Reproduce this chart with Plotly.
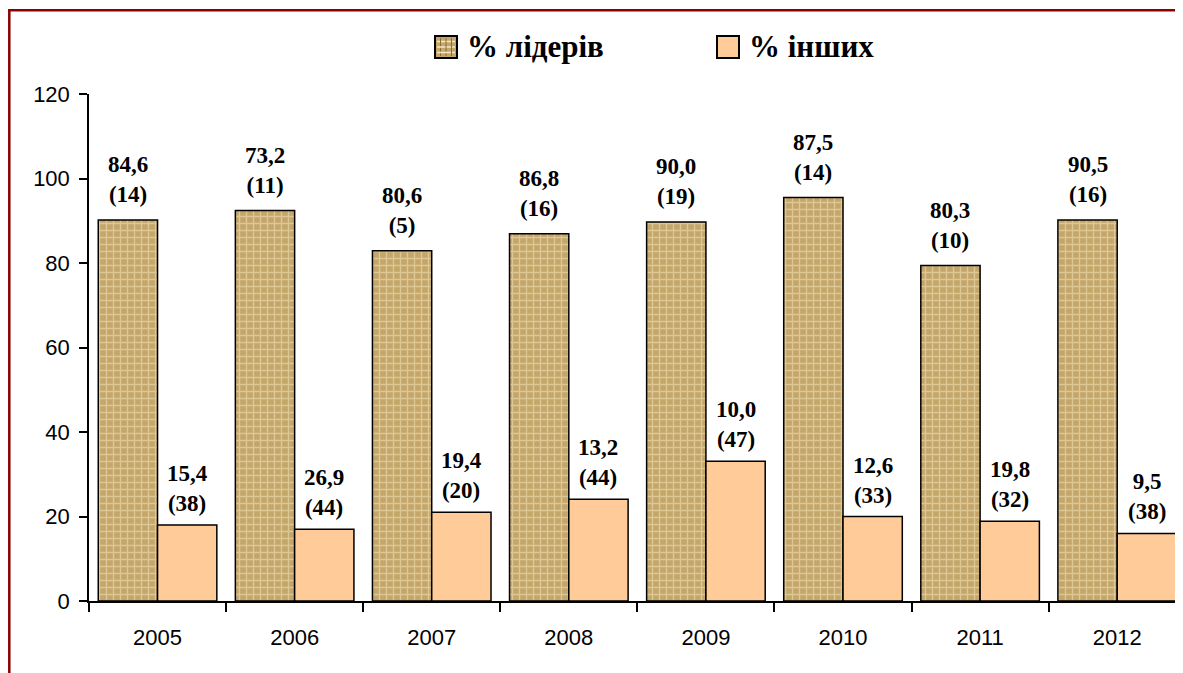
import plotly.graph_objects as go

# ---- data ----
years = ["2005", "2006", "2007", "2008", "2009", "2010", "2011", "2012"]
leaders_height = [90.2, 92.4, 82.9, 86.9, 89.7, 95.5, 79.4, 90.2]
others_height = [18.0, 17.0, 21.0, 24.1, 33.1, 20.0, 18.9, 16.0]
leaders_pct = ["84,6", "73,2", "80,6", "86,8", "90,0", "87,5", "80,3", "90,5"]
leaders_n = ["14", "11", "5", "16", "19", "14", "10", "16"]
others_pct = ["15,4", "26,9", "19,4", "13,2", "10,0", "12,6", "19,8", "9,5"]
others_n = ["38", "44", "20", "44", "47", "33", "32", "38"]
series_names = ["% лідерів", "% інших"]
y_ticks = [0, 20, 40, 60, 80, 100, 120]

# ---- styling / layout constants ----
# page has an 8px body margin, so the figure is 8px smaller than the window
W, H = 1175, 665
ML, MR, MT, MB = 81, 0, 86, 72
BARGAP = 0.135
SERIF = "Liberation Serif, Times New Roman, serif"
SANS = "Liberation Sans, Arial, sans-serif"
LEAD_COLOR = "#C4A66A"
LEAD_PATTERN = dict(shape="+", fgcolor="#F5E8C0", size=7, solidity=0.35,
                    fillmode="overlay")
OTHER_COLOR = "#FFCC99"

plot_w = W - ML - MR
plot_h = H - MT - MB


def px_x(px):
    return (px - ML) / plot_w


def px_y(py):
    return (H - MB - py) / plot_h


fig = go.Figure()
fig.add_trace(go.Bar(
    x=years, y=leaders_height, name=series_names[0], showlegend=False,
    marker=dict(color=LEAD_COLOR, line=dict(color="black", width=1.5),
                pattern=LEAD_PATTERN),
))
fig.add_trace(go.Bar(
    x=years, y=others_height, name=series_names[1], showlegend=False,
    marker=dict(color=OTHER_COLOR, line=dict(color="black", width=1.5)),
))

# value labels above bars
off = (1 - BARGAP) / 4
for i in range(len(years)):
    fig.add_annotation(
        x=i - off, y=leaders_height[i], xref="x", yref="y",
        text=f"<b>{leaders_pct[i]}<br>({leaders_n[i]})</b>",
        showarrow=False, yanchor="bottom", yshift=11,
        font=dict(family=SERIF, size=23, color="black"),
    )
    fig.add_annotation(
        x=i + off, y=others_height[i], xref="x", yref="y",
        text=f"<b>{others_pct[i]}<br>({others_n[i]})</b>",
        showarrow=False, yanchor="bottom", yshift=7,
        font=dict(family=SERIF, size=23, color="black"),
    )

# custom legend (large square swatches)
legend_items = [
    (427, LEAD_COLOR, True, series_names[0]),
    (709, OTHER_COLOR, False, series_names[1]),
]
for x_left, col, patterned, name in legend_items:
    fig.add_shape(
        type="rect", xref="paper", yref="paper",
        x0=px_x(x_left), x1=px_x(x_left + 22),
        y0=px_y(28 + 22), y1=px_y(28),
        fillcolor=col, line=dict(color="black", width=2), layer="above",
    )
    if patterned:
        for k in range(1, 4):
            fig.add_shape(
                type="line", xref="paper", yref="paper",
                x0=px_x(x_left + 2), x1=px_x(x_left + 20),
                y0=px_y(28 + 5.5 * k), y1=px_y(28 + 5.5 * k),
                line=dict(color="#F5E8C0", width=1.5), layer="above",
            )
            fig.add_shape(
                type="line", xref="paper", yref="paper",
                x0=px_x(x_left + 5.5 * k), x1=px_x(x_left + 5.5 * k),
                y0=px_y(28 + 20), y1=px_y(28 + 2),
                line=dict(color="#8C6E3A", width=1), layer="above",
            )
    fig.add_annotation(
        x=px_x(x_left + 30), y=px_y(39), xref="paper", yref="paper",
        xanchor="left", yanchor="middle", showarrow=False,
        text=f"<b>{name}</b>",
        font=dict(family=SERIF, size=31, color="black"),
    )

# outer dark-red frame
fig.add_shape(
    type="rect", xref="paper", yref="paper",
    x0=px_x(1.3), x1=1.2,
    y0=-0.5, y1=px_y(2.3),
    line=dict(color="#8B0000", width=2.5), fillcolor="rgba(0,0,0,0)",
    layer="above",
)

fig.update_layout(
    width=W, height=H,
    margin=dict(l=ML, r=MR, t=MT, b=MB),
    paper_bgcolor="white", plot_bgcolor="white",
    barmode="group", bargap=BARGAP, bargroupgap=0,
    showlegend=False,
    xaxis=dict(
        type="category", range=[-0.5, 7.48],
        showline=True, linecolor="black", linewidth=1.5,
        ticks="outside", tickson="boundaries", ticklen=9, tickwidth=1.5,
        tickcolor="black", showgrid=False, zeroline=False,
        tickfont=dict(family=SANS, size=22, color="black"),
        ticklabelstandoff=16,
    ),
    yaxis=dict(
        range=[0, 120], tickvals=y_ticks,
        showline=True, linecolor="black", linewidth=1.5,
        ticks="outside", ticklen=8, tickwidth=1.5, tickcolor="black",
        showgrid=False, zeroline=False,
        tickfont=dict(family=SANS, size=22, color="black"),
        ticklabelstandoff=5,
    ),
)

fig.write_html("out.html")
